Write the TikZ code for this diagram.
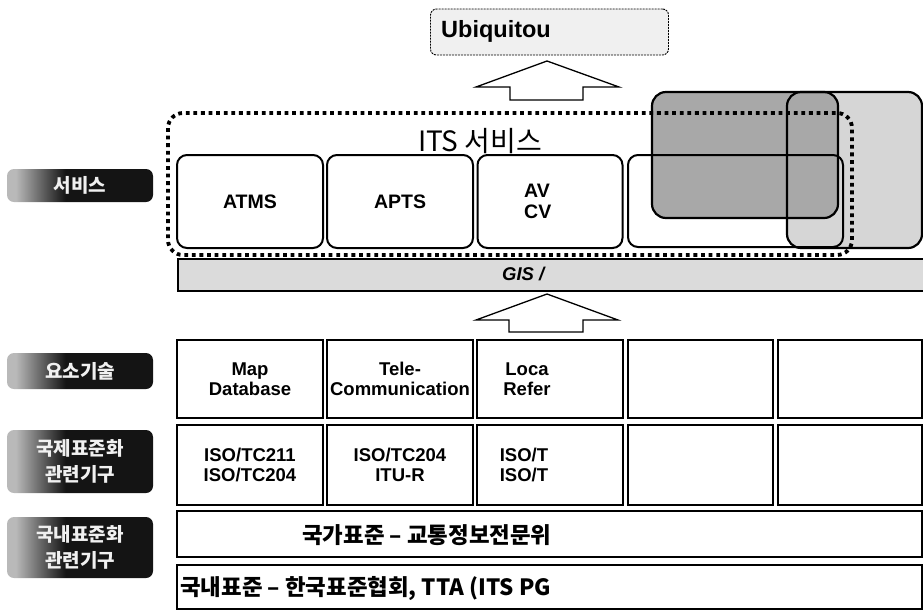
\documentclass[tikz,border=0pt]{standalone}
\usepackage{fontspec}
\setmainfont{Liberation Sans}
\newfontfamily\kr{Noto Sans CJK KR}
\pgfdeclarehorizontalshading{lblshade}{100bp}{color(0bp)=(gray!55); color(28bp)=(gray!55); color(45bp)=(black!92); color(100bp)=(black!92)}
\begin{document}
\begin{tikzpicture}[x=1pt,y=-1pt,
  svc/.style={draw, line width=2pt, rounded corners=10pt, inner sep=0pt, minimum height=93pt},
  cell/.style={draw, line width=2.8pt, inner sep=0pt, font=\bfseries\fontsize{18.5}{19.5}\selectfont, align=center},
  lbl/.style={shade, shading=lblshade, rounded corners=7pt, inner sep=0pt, minimum width=146pt,
    text=gray!12, font=\kr\bfseries\fontsize{19}{26}\selectfont, align=center},
  svctxt/.style={font=\bfseries\fontsize{19.5}{21}\selectfont, align=center},
  celltxt/.style={font=\bfseries\fontsize{18.5}{19.5}\selectfont, align=center, inner sep=0pt},
  blockarrow/.style={draw, line width=1.3pt, fill=white, line join=miter},
  overlay box/.style={line width=2.2pt, rounded corners=14pt},
  rowtxt/.style={font=\kr\bfseries\fontsize{22.4}{22.4}\selectfont, inner sep=0pt, anchor=west}
]
\useasboundingbox (0,0) rectangle (923,611);

% top: ubiquitous
\node[draw, dash pattern=on 2pt off 1pt, line width=0.9pt, rounded corners=6pt, fill=gray!12,
  minimum width=238pt, minimum height=46pt, inner sep=0pt] (ubi) at (549.5,32) {};
\node[font=\bfseries\fontsize{23.5}{23.5}\selectfont, inner sep=0pt, anchor=west] (ubitxt) at (441,31) {Ubiquitou};
\draw[blockarrow] (547,61) -- (619,87) -- (583,87) -- (583,100) -- (510,100) -- (510,87) -- (476,87) -- cycle;

% overlay rectangles (fills)
\fill[gray!32, rounded corners=14pt] (787,92) rectangle (922,248);
\fill[gray!68, rounded corners=14pt] (652,92) rectangle (838,218);

% ITS services
\node[font=\kr\fontsize{28}{28}\selectfont, inner sep=0pt] (its) at (480,141) {ITS 서비스};
\node[svc, minimum width=146pt, svctxt] (atms) at (250,201.5) {ATMS};
\node[svc, minimum width=146pt, svctxt] (apts) at (400,201.5) {APTS};
\node[svc, minimum width=145pt] (avcv) at (550,201.5) {};
\node[svctxt, inner sep=0pt, align=left, anchor=west] (avcvtxt) at (524,201.5) {AV\\CV};
\node[svc, minimum width=215pt, minimum height=92pt] (svc4) at (735.5,201) {};

% overlay rectangles (outlines)
\draw[overlay box] (787,92) rectangle (922,248);
\draw[overlay box] (652,92) rectangle (838,218);

% dotted frame
\draw[line width=3.8pt, dash pattern=on 3.8pt off 3.8pt, rounded corners=15pt] (168,113) rectangle (852,255);

% GIS bar
\node[draw, line width=2.2pt, fill=gray!28, minimum width=750pt, minimum height=32pt,
  anchor=north west, inner sep=0pt] (gis) at (177,258) {};
\node[font=\bfseries\itshape\fontsize{18.5}{18.5}\selectfont, inner sep=0pt, anchor=west] (gistxt) at (502,274) {GIS /};

\draw[blockarrow] (547,294) -- (618,320) -- (583,320) -- (583,332) -- (509,332) -- (509,320) -- (476,320) -- cycle;

% element technology row
\node[cell, minimum width=146pt, minimum height=78pt] (r1a) at (250,379) {Map\\Database};
\node[cell, minimum width=146pt, minimum height=78pt] (r1b) at (400,379) {Tele-\\Communication};
\node[cell, minimum width=146pt, minimum height=78pt] (r1c) at (550,379) {};
\node[celltxt] (r1ctxt) at (527,379) {Loca\\Refer};
\node[cell, minimum width=145pt, minimum height=78pt] (r1d) at (700.5,379) {};
\node[cell, minimum width=144pt, minimum height=78pt] (r1e) at (850,379) {};

% international row
\node[cell, minimum width=146pt, minimum height=80pt] (r2a) at (250,465) {ISO/TC211\\ISO/TC204};
\node[cell, minimum width=146pt, minimum height=80pt] (r2b) at (400,465) {ISO/TC204\\ITU-R};
\node[cell, minimum width=146pt, minimum height=80pt] (r2c) at (550,465) {};
\node[celltxt] (r2ctxt) at (524,465) {ISO/T\\ISO/T};
\node[cell, minimum width=145pt, minimum height=80pt] (r2d) at (700.5,465) {};
\node[cell, minimum width=144pt, minimum height=80pt] (r2e) at (850,465) {};

% domestic rows
\node[cell, minimum width=745pt, minimum height=46pt] (r3) at (549.5,534) {};
\node[rowtxt] (r3txt) at (302,535) {국가표준 – 교통정보전문위};
\node[cell, minimum width=745pt, minimum height=44pt] (r4) at (549.5,587) {};
\node[rowtxt] (r4txt) at (180,588) {국내표준 – 한국표준협회, TTA (ITS PG};

% left labels
\node[lbl, minimum height=33pt] (l1) at (80,185.5) {서비스};
\node[lbl, minimum height=36pt] (l2) at (80,371) {요소기술};
\node[lbl, minimum height=63pt] (l3) at (80,461.5) {국제표준화\\관련기구};
\node[lbl, minimum height=61pt] (l4) at (80,547.5) {국내표준화\\관련기구};
\end{tikzpicture}
\end{document}
